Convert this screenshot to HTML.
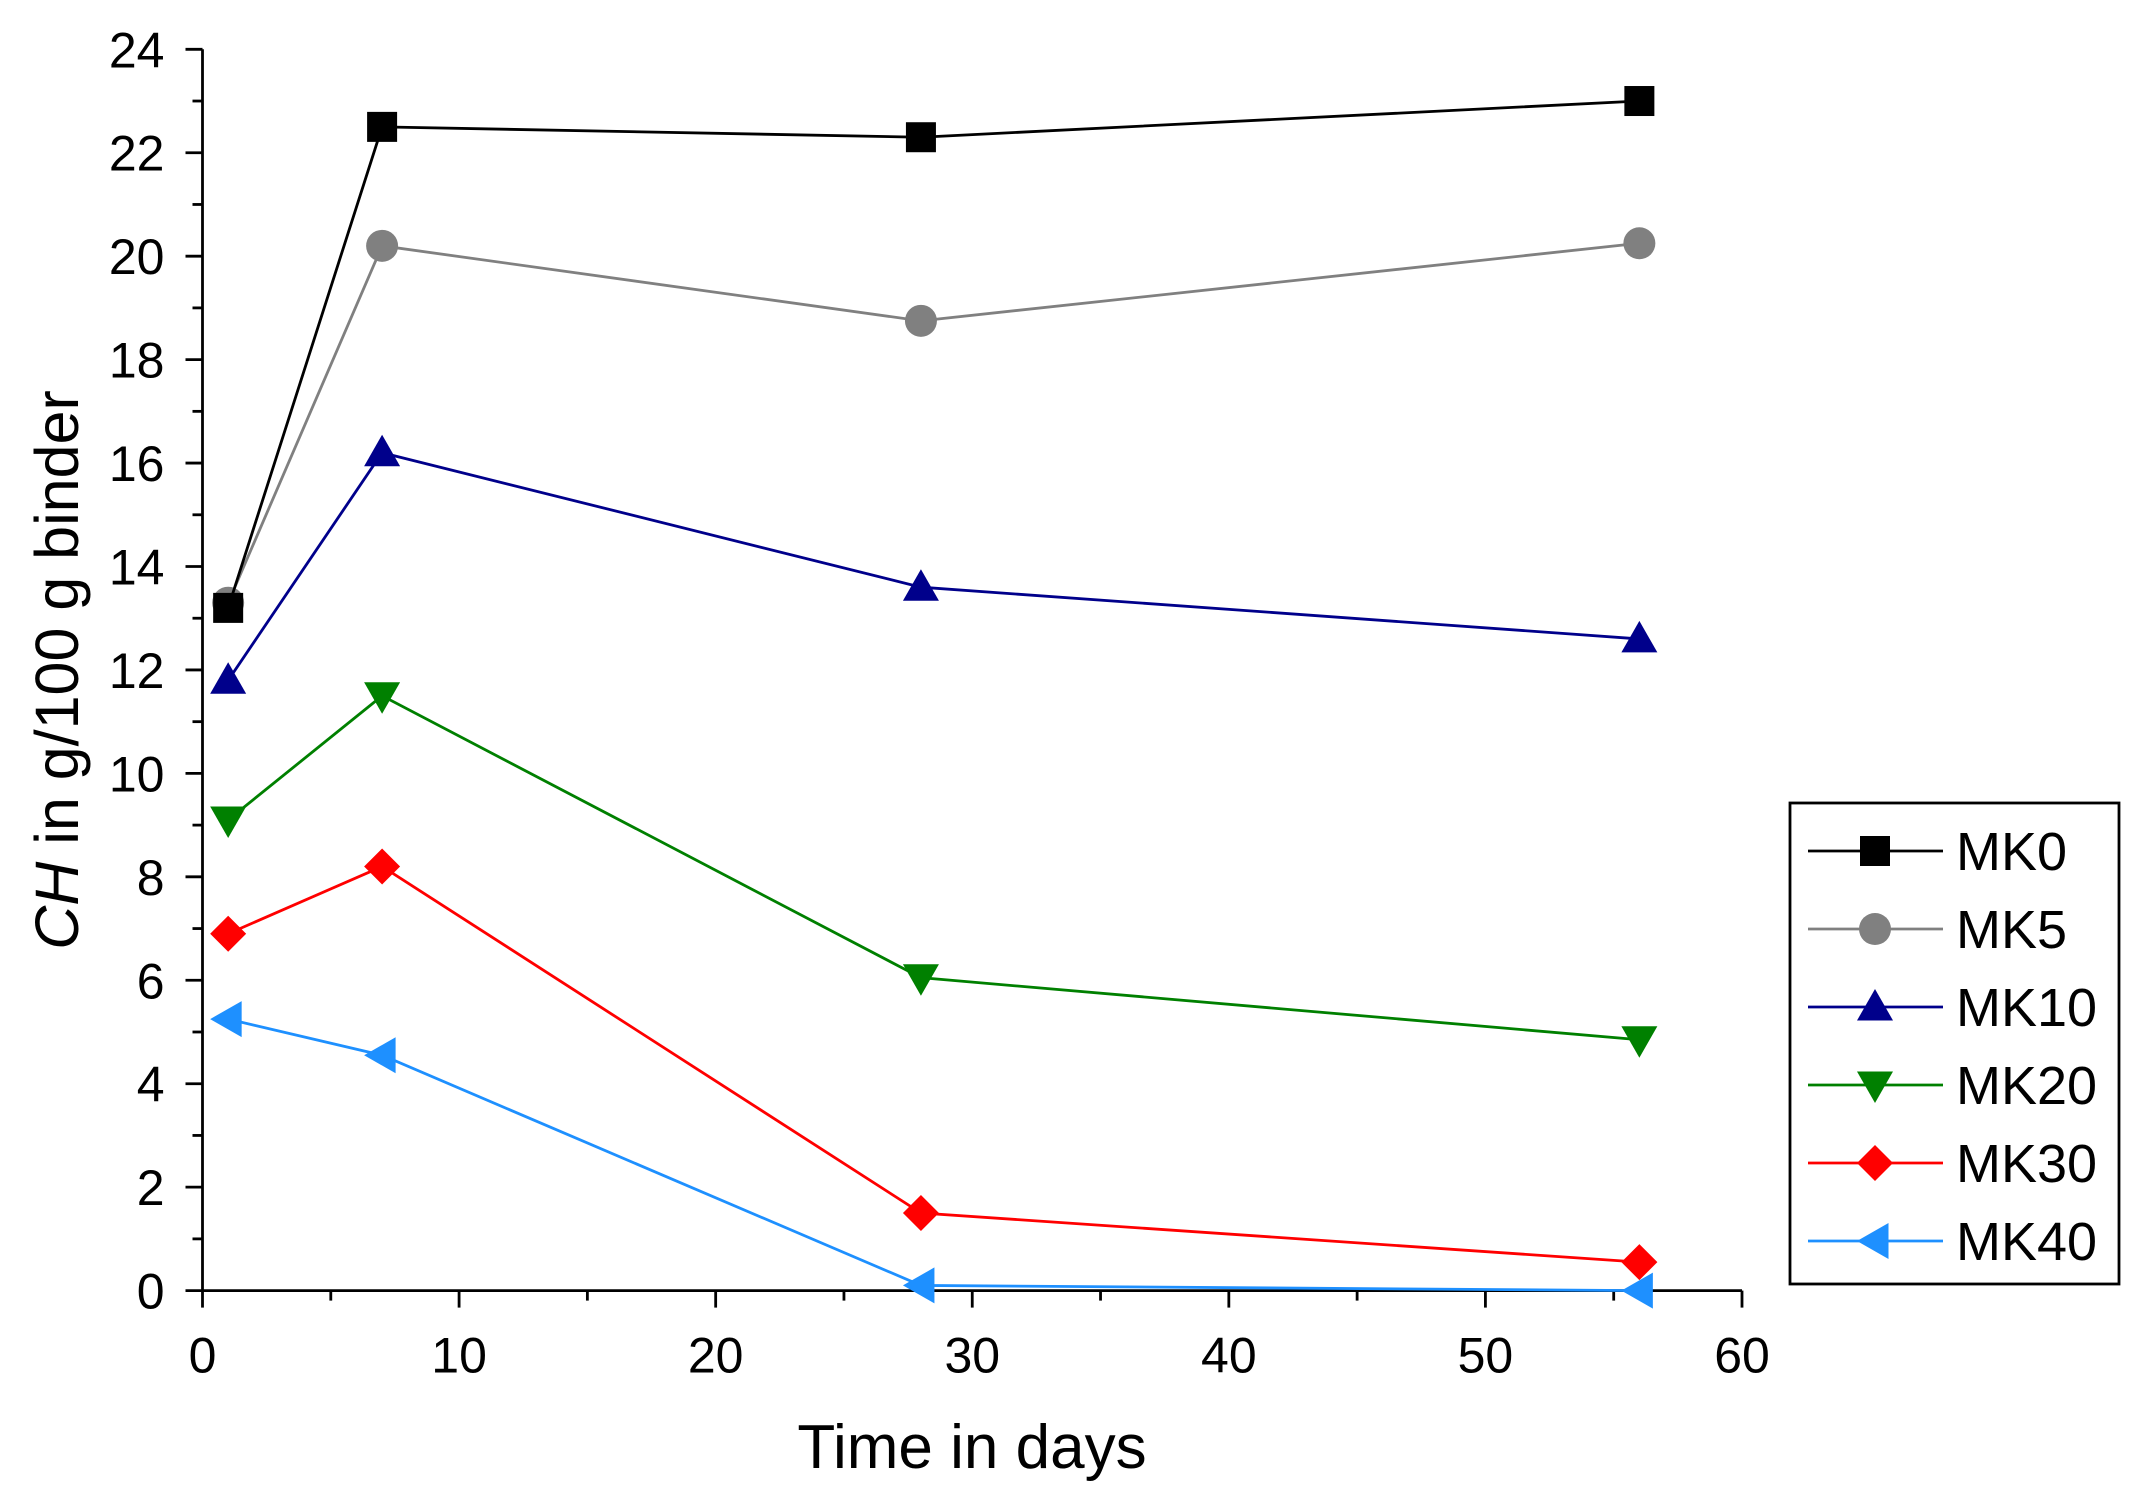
<!DOCTYPE html>
<html><head><meta charset="utf-8"><style>
html,body{margin:0;padding:0;background:#fff}
svg{display:block;font-family:"Liberation Sans",Arial,sans-serif}
</style></head><body>
<svg id="chart" width="2146" height="1506" viewBox="0 0 2146 1506" xmlns="http://www.w3.org/2000/svg">
<g id="axes"></g>
<g id="series"></g>
<g id="legend"></g>
<text x="972" y="1468" font-size="62" text-anchor="middle">Time in days</text>
<text transform="translate(78,670) rotate(-90)" font-size="61" text-anchor="middle"><tspan font-style="italic">CH</tspan> in g/100 g binder</text>
</svg>
<script>
const days = [1, 7, 28, 56];
const seriesNames = ["MK0","MK5","MK10","MK20","MK30","MK40"];
const mk0 = [13.2, 22.5, 22.3, 23.0];
const mk5 = [13.3, 20.2, 18.75, 20.25];
const mk10 = [11.8, 16.2, 13.6, 12.6];
const mk20 = [9.1, 11.5, 6.05, 4.85];
const mk30 = [6.9, 8.2, 1.5, 0.55];
const mk40 = [5.25, 4.55, 0.1, 0.0];
const xTicks = [0,10,20,30,40,50,60];
const yTicks = [0,2,4,6,8,10,12,14,16,18,20,22,24];

const NS="http://www.w3.org/2000/svg";
const X0=202.5,X1=1742,Y0=1290.6,Y1=49.3;
const xs=v=>X0+(v-0)/60*(X1-X0);
const ys=v=>Y0-(v/24)*(Y0-Y1);
function mk(tag,attrs,parent){const e=document.createElementNS(NS,tag);for(const k in attrs)e.setAttribute(k,attrs[k]);parent.appendChild(e);return e;}
const axes=document.getElementById('axes');
let l=mk('line',{x1:X0,y1:Y0,x2:X1,y2:Y0,stroke:'#000','stroke-width':2.8},axes);


l=mk('line',{x1:X0,y1:Y0,x2:X0,y2:Y1,stroke:'#000','stroke-width':2.8},axes);


for(let v=0;v<=60;v+=5){const major=v%10===0;const t=mk('line',{x1:xs(v),y1:Y0,x2:xs(v),y2:Y0+(major?17:10),stroke:'#000','stroke-width':2.8},axes);

}
xTicks.forEach(v=>{const t=mk('text',{x:xs(v),y:Y0+82,'font-size':50,'text-anchor':'middle'},axes);t.textContent=v;

});
for(let v=0;v<=24;v+=1){const major=v%2===0;const t=mk('line',{x1:X0,y1:ys(v),x2:X0-(major?17:10),y2:ys(v),stroke:'#000','stroke-width':2.8},axes);

}
yTicks.forEach(v=>{const t=mk('text',{x:X0-38,y:ys(v)+18,'font-size':50,'text-anchor':'end'},axes);t.textContent=v;

});

const colors=['#000000','#808080','#00008b','#008000','#ff0000','#1e90ff'];
const shapes=['square','circle','up','down','diamond','left'];
const data=[mk0,mk5,mk10,mk20,mk30,mk40];
function marker(shape,cx,cy,c,parent){const s=15;let e;
 if(shape==='square')e=mk('rect',{x:cx-s,y:cy-s,width:2*s,height:2*s,fill:c},parent);
 else if(shape==='circle')e=mk('circle',{cx:cx,cy:cy,r:s+1,fill:c},parent);
 else{let p;const r=s+3;
  if(shape==='up')p=[[cx,cy-r],[cx+r,cy+r*0.75],[cx-r,cy+r*0.75]];
  if(shape==='down')p=[[cx,cy+r],[cx+r,cy-r*0.75],[cx-r,cy-r*0.75]];
  if(shape==='diamond')p=[[cx,cy-r],[cx+r,cy],[cx,cy+r],[cx-r,cy]];
  if(shape==='left')p=[[cx-r,cy],[cx+r*0.75,cy-r],[cx+r*0.75,cy+r]];
  e=mk('polygon',{points:p.map(q=>q.join(',')).join(' '),fill:c},parent);}
 return e;}
const sg=document.getElementById('series');
for(let i=data.length-1;i>=0;i--){
 const g=mk('g',{},sg);
 
 
 const pl=mk('polyline',{points:days.map((d,j)=>xs(d)+','+ys(data[i][j])).join(' '),fill:'none',stroke:colors[i],'stroke-width':2.8},g);
 
 
 days.forEach((d,j)=>{const m=marker(shapes[i],xs(d),ys(data[i][j]),colors[i],g);
  
  });
}
const lg=document.getElementById('legend');
const box=mk('rect',{x:1790,y:803,width:329,height:481,fill:'#fff',stroke:'#000','stroke-width':2.8},lg);


seriesNames.forEach((n,i)=>{const y=851+i*78;
 const g=mk('g',{},lg);
 
 
 mk('line',{x1:1808,y1:y,x2:1943,y2:y,stroke:colors[i],'stroke-width':2.8},g);
 marker(shapes[i],1875,y,colors[i],g);
 const t=mk('text',{x:1956,y:y+19,'font-size':54},g);t.textContent=n;});
</script>
</body></html>
